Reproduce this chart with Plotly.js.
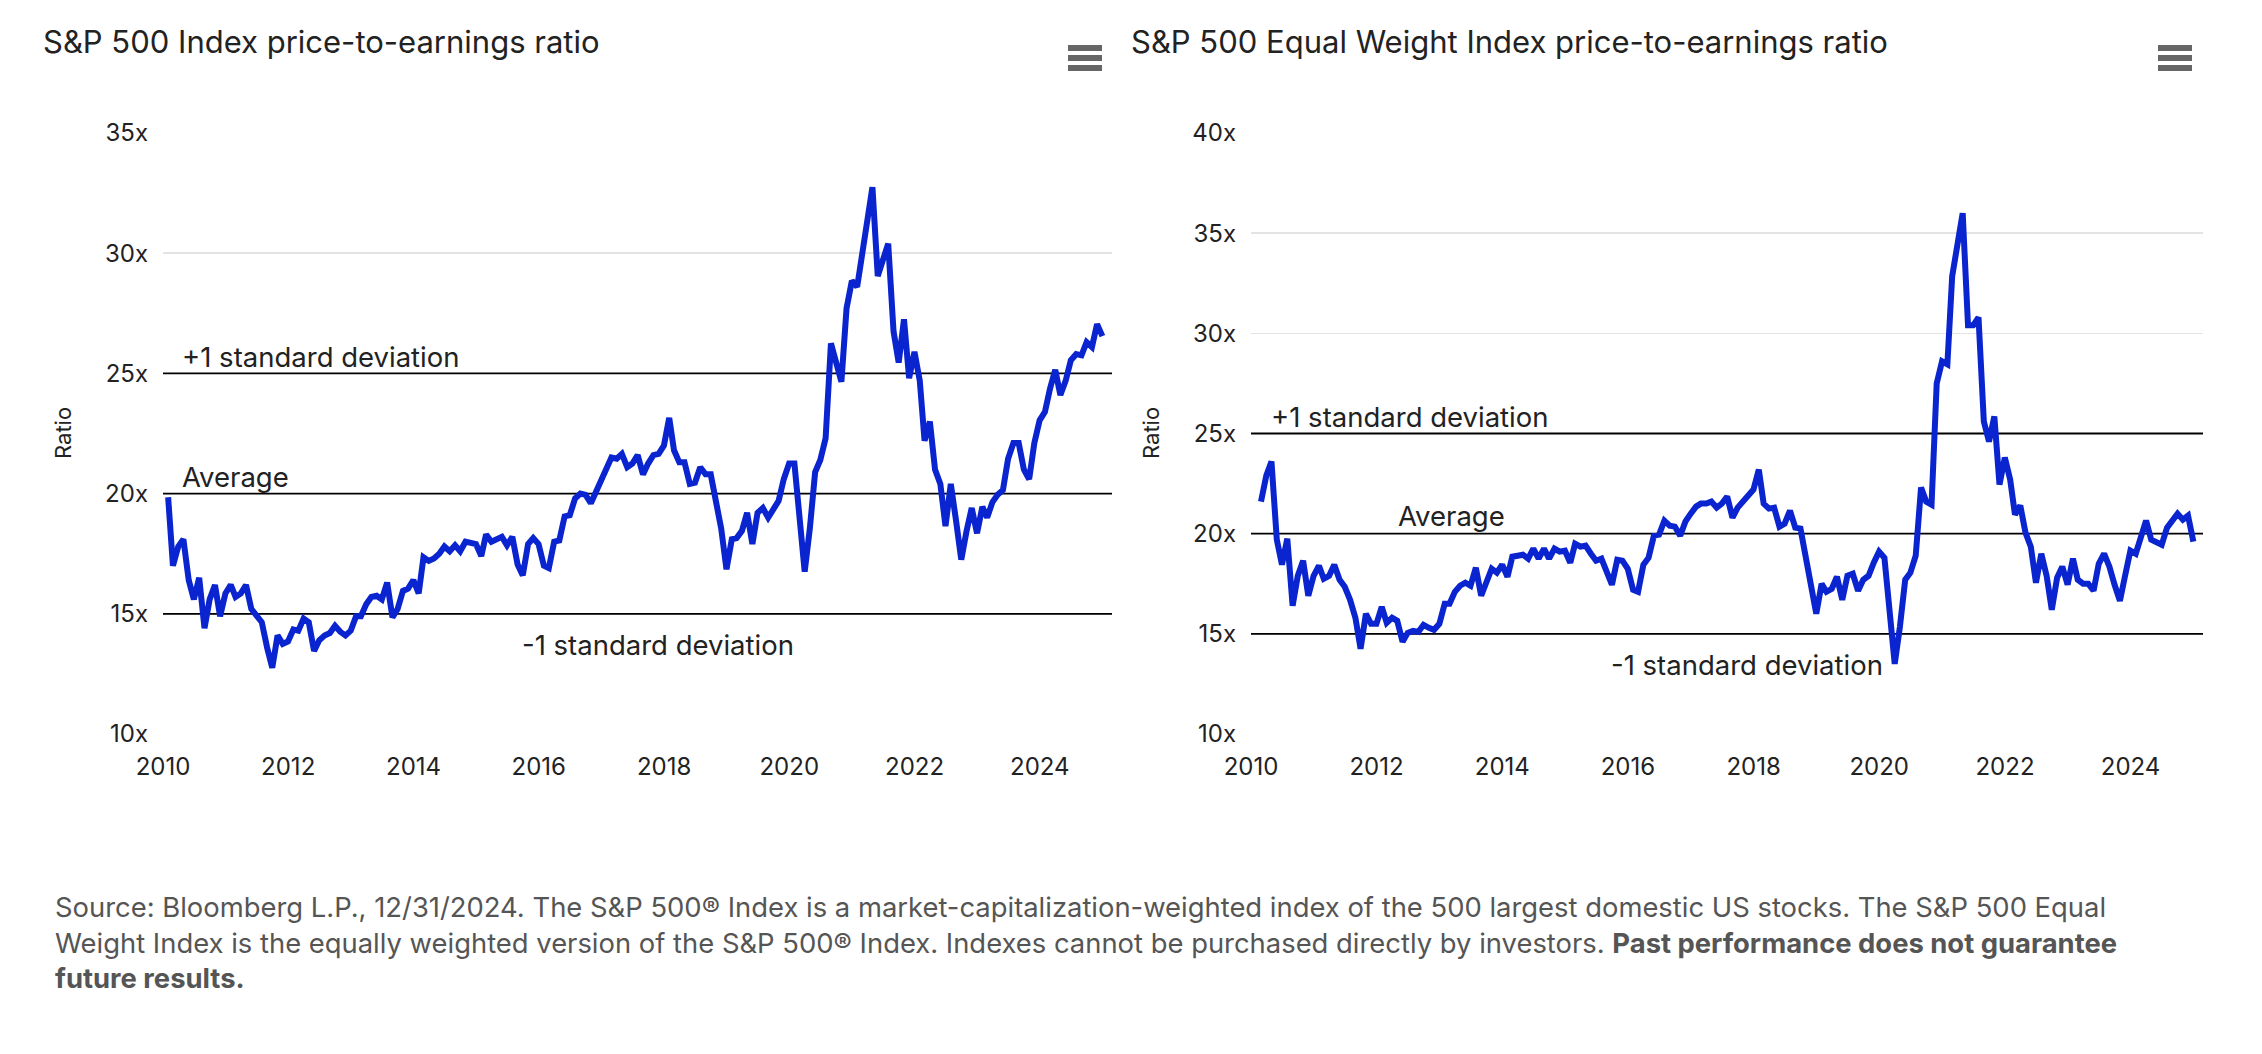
<!DOCTYPE html>
<html>
<head>
<meta charset="utf-8">
<script src="https://cdn.plot.ly/plotly-3.0.1.min.js"></script>
<style>
  html, body { margin: 0; padding: 0; background: #ffffff; }
  #chart { width: 2262px; height: 1054px; }
</style>
</head>
<body>
<div id="chart"></div>
<script>
// ---------------- DATA ----------------
// S&P 500 Index P/E ratio, monthly, Jan 2010 - Dec 2024
const sp500PE = [
  19.85, 17.0, 17.8, 18.1, 16.4, 15.6, 16.5, 14.4, 15.6, 16.2, 14.9, 15.85,
  16.2, 15.7, 15.85, 16.2, 15.2, 14.9, 14.65, 13.6, 12.75, 14.1, 13.75, 13.85,
  14.35, 14.3, 14.8, 14.65, 13.45, 13.9, 14.1, 14.2, 14.5, 14.25, 14.1, 14.3,
  14.9, 14.9, 15.4, 15.7, 15.75, 15.6, 16.3, 14.85, 15.2, 15.95, 16.05, 16.4,
  15.85, 17.35, 17.2, 17.3, 17.5, 17.8, 17.6, 17.85, 17.6, 18.0, 17.95, 17.9,
  17.4, 18.3, 18.0, 18.1, 18.2, 17.85, 18.2, 17.05, 16.6, 17.9, 18.15, 17.9,
  17.0, 16.9, 18.0, 18.05, 19.05, 19.1, 19.8, 20.0, 19.95, 19.6, 20.05, 20.5,
  20.95, 21.5, 21.45, 21.65, 21.1, 21.25, 21.6, 20.8, 21.25, 21.6, 21.65, 22.0,
  23.15, 21.8, 21.3, 21.3, 20.4, 20.45, 21.1, 20.8, 20.8, 19.5, 18.55, 16.85,
  18.1, 18.15, 18.45, 19.2, 17.9, 19.2, 19.4, 19.0, 19.3, 19.7, 20.6, 21.25,
  21.25, 18.95, 16.75, 18.55, 20.9, 21.4, 22.3, 26.25, 25.4, 24.65, 27.7, 28.85,
  28.6, 29.9, 31.3, 32.75, 29.05, 29.7, 30.4, 26.75, 25.45, 27.25, 24.8, 25.9,
  24.7, 22.2, 23.0, 21.0, 20.4, 18.65, 20.4, 18.85, 17.25, 18.45, 19.4, 18.35,
  19.45, 19.0, 19.65, 19.95, 20.15, 21.45, 22.1, 22.1, 21.0, 20.6, 22.1, 23.05,
  23.4, 24.35, 25.15, 24.1, 24.7, 25.55, 25.8, 25.75, 26.3, 26.1, 27.05, 26.55
];
// S&P 500 Equal Weight Index P/E ratio, monthly, Feb 2010 - Dec 2024
const equalWeightPE = [
  21.6, 22.9, 23.6, 19.7, 18.45, 19.75, 16.4, 17.9, 18.65, 16.9, 17.9,
  18.4, 17.75, 17.9, 18.45, 17.7, 17.35, 16.7, 15.8, 14.25, 16.0, 15.5, 15.5,
  16.35, 15.55, 15.8, 15.65, 14.6, 15.05, 15.15, 15.1, 15.45, 15.3, 15.2, 15.5,
  16.5, 16.5, 17.1, 17.4, 17.55, 17.4, 18.3, 16.9, 17.5, 18.25, 18.05, 18.45,
  17.85, 18.85, 18.9, 18.95, 18.75, 19.25, 18.75, 19.25, 18.75, 19.25, 19.1, 19.15,
  18.55, 19.5, 19.35, 19.4, 19.0, 18.65, 18.75, 18.05, 17.45, 18.7, 18.65, 18.25,
  17.2, 17.1, 18.45, 18.8, 19.9, 19.95, 20.65, 20.4, 20.35, 19.9, 20.6, 21.0,
  21.35, 21.5, 21.5, 21.6, 21.3, 21.5, 21.85, 20.8, 21.3, 21.6, 21.9, 22.2,
  23.2, 21.5, 21.25, 21.3, 20.35, 20.5, 21.15, 20.3, 20.25, 18.8, 17.7, 16.0,
  17.5, 17.1, 17.25, 17.85, 16.7, 17.9, 18.0, 17.15, 17.7, 17.9, 18.55, 19.1,
  18.8, 16.1, 13.5, 15.35, 17.7, 18.05, 18.9, 22.3, 21.6, 21.45, 27.5, 28.6,
  28.45, 32.85, 34.4, 36.0, 30.4, 30.4, 30.8, 25.6, 24.6, 25.85, 22.45, 23.8,
  22.7, 20.95, 21.4, 20.05, 19.35, 17.55, 19.0, 17.9, 16.2, 17.8, 18.35, 17.45,
  18.75, 17.7, 17.5, 17.5, 17.15, 18.5, 19.0, 18.35, 17.45, 16.65, 17.9, 19.15,
  19.0, 19.85, 20.65, 19.7, 19.6, 19.45, 20.3, 20.6, 21.0, 20.7, 20.9, 19.6
];
const sp500Start = [2010, 1];        // first month of S&P 500 series
const equalWeightStart = [2010, 2];  // first month of Equal Weight series
const sp500Bands = [25, 20, 15];       // +1 sd, average, -1 sd
const equalWeightBands = [25, 20, 15]; // +1 sd, average, -1 sd
const sp500YRange = [10, 35];
const equalWeightYRange = [10, 40];
const xRange = ['2010-01-01', '2025-02-25'];

const chartTitles = [
  'S&amp;P 500 Index price-to-earnings ratio',
  'S&amp;P 500 Equal Weight Index price-to-earnings ratio'
];
const bandLabels = ['+1 standard deviation', 'Average', '-1 standard deviation'];
const yAxisLabel = 'Ratio';
const footerLines = [
  'Source: Bloomberg L.P., 12/31/2024. The S&amp;P 500® Index is a market-capitalization-weighted index of the 500 largest domestic US stocks. The S&amp;P 500 Equal',
  'Weight Index is the equally weighted version of the S&amp;P 500® Index. Indexes cannot be purchased directly by investors. <b>Past performance does not guarantee</b>',
  '<b>future results.</b>'
];

// month-end dates
function monthEnds(start, count) {
  const out = [];
  for (let i = 0; i < count; i++) {
    const d = new Date(Date.UTC(start[0], start[1] - 1 + i + 1, 0));
    out.push(d.toISOString().slice(0, 10));
  }
  return out;
}
const sp500Dates = monthEnds(sp500Start, sp500PE.length);
const equalWeightDates = monthEnds(equalWeightStart, equalWeightPE.length);

// ---------------- STYLE ----------------
const W = 2262, H = 1054;
const FONT = 'Inter, "Open Sans", sans-serif';
const LINE_COLOR = '#0a24cf';
const TEXT = '#222222';
const px = v => v / W;
const py = v => 1 - v / H;

function bandTraces(xa, ya, bands) {
  return bands.map(v => ({
    x: xRange, y: [v, v], xaxis: xa, yaxis: ya, type: 'scatter', mode: 'lines',
    line: { color: '#000000', width: 1.8 }, hoverinfo: 'skip'
  }));
}

const traces = [].concat(
  bandTraces('x', 'y', sp500Bands),
  bandTraces('x2', 'y2', equalWeightBands),
  [
    { x: sp500Dates, y: sp500PE, xaxis: 'x', yaxis: 'y', type: 'scatter', mode: 'lines',
      line: { color: LINE_COLOR, width: 6 }, hoverinfo: 'skip' },
    { x: equalWeightDates, y: equalWeightPE, xaxis: 'x2', yaxis: 'y2', type: 'scatter', mode: 'lines',
      line: { color: LINE_COLOR, width: 6 }, hoverinfo: 'skip' }
  ]
);

const xCommon = {
  type: 'date', range: xRange, tickmode: 'linear', tick0: '2010-01-01', dtick: 'M24',
  tickformat: '%Y', showgrid: false, zeroline: false, showline: false, ticks: '',
  tickfont: { family: FONT, size: 24, color: TEXT }, ticklabelstandoff: 16, fixedrange: true
};
const yCommon = {
  dtick: 5, ticksuffix: 'x', gridcolor: '#e3e3e3', gridwidth: 1.5, zeroline: false,
  showline: false, ticks: '', tickfont: { family: FONT, size: 24, color: TEXT },
  ticklabelstandoff: 14, fixedrange: true
};
const yDom = [py(734), py(133)];

function menuIcon(xLeft) {
  return [48, 58, 68].map(yy => ({
    type: 'line', xref: 'paper', yref: 'paper', x0: px(xLeft), x1: px(xLeft + 34),
    y0: py(yy), y1: py(yy), line: { color: '#666666', width: 6 }
  }));
}

function ann(text, x, y, size, opts) {
  return Object.assign({
    text: text, xref: 'paper', yref: 'paper', x: x, y: y, showarrow: false,
    xanchor: 'left', yanchor: 'middle', align: 'left',
    font: { family: FONT, size: size, color: TEXT }
  }, opts || {});
}

const annotations = [
  ann(chartTitles[0], px(41), py(41), 31),
  ann(chartTitles[1], px(1129), py(41), 31),
  ann(yAxisLabel, px(63), py(433), 22, { xanchor: 'center', textangle: -90 }),
  ann(yAxisLabel, px(1151), py(433), 22, { xanchor: 'center', textangle: -90 }),
  ann(bandLabels[0], px(180), py(357), 27.5),
  ann(bandLabels[1], px(180), py(477), 27.5),
  ann(bandLabels[2], px(520), py(645), 27.5),
  ann(bandLabels[0], px(1269), py(417), 27.5),
  ann(bandLabels[1], px(1396), py(516), 27.5),
  ann(bandLabels[2], px(1609), py(665), 27.5),
  ann(footerLines.join('<br>'), px(53), py(888), 27.4,
      { yanchor: 'top', font: { family: FONT, size: 27.4, color: '#555555' } })
];

const layout = {
  width: W, height: H, margin: { l: 0, r: 0, t: 0, b: 0 },
  paper_bgcolor: '#ffffff', plot_bgcolor: '#ffffff', showlegend: false,
  font: { family: FONT, color: TEXT },
  xaxis: Object.assign({}, xCommon, { domain: [px(163), px(1112)], anchor: 'y' }),
  yaxis: Object.assign({}, yCommon, { domain: yDom, range: sp500YRange, anchor: 'x' }),
  xaxis2: Object.assign({}, xCommon, { domain: [px(1251), px(2203)], anchor: 'y2' }),
  yaxis2: Object.assign({}, yCommon, { domain: yDom, range: equalWeightYRange, anchor: 'x2' }),
  shapes: [].concat(menuIcon(1068), menuIcon(2158)),
  annotations: annotations
};

Plotly.newPlot('chart', traces, layout, { displayModeBar: false, staticPlot: true });
</script>
</body>
</html>
